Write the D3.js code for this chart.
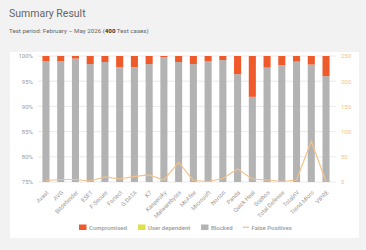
<!DOCTYPE html>
<html><head><meta charset="utf-8">
<script src="https://cdn.jsdelivr.net/npm/d3@7"></script>
<style>
html,body{margin:0;padding:0;background:#f2f2f2;}
svg{display:block;font-family:Roboto,"Open Sans",sans-serif;}
</style></head>
<body><svg id="c" width="366" height="250"></svg>
<script>
const categories = ["Avast","AVG","Bitdefender","ESET","F-Secure","Fortect","G DATA","K7","Kaspersky","Malwarebytes","McAfee","Microsoft","Norton","Panda","Quick Heal","Sophos","Total Defense","TotalAV","Trend Micro","VIPRE"];
const blocked = [99.0,99.0,99.5,98.4,98.8,97.8,97.8,98.4,99.8,98.8,98.4,99.0,99.2,96.4,91.9,97.7,98.2,98.9,98.3,96.0];
const userDependent = [0,0,0,0,0,0,0,0,0,0,0,0,0,0,0,0,0,0,0,0];
const compromised = blocked.map((b,i)=>+(100-b-userDependent[i]).toFixed(2));
const falsePositives = [3,5,5,2,10,6,11,14,4,39,3,1,7,26,6,4,1,4,81,1];
const leftTicks = [75,80,85,90,95,100];
const rightTicks = [0,50,100,150,200,250];

const svg = d3.select("#c");
svg.append("rect").attr("x",10).attr("y",52).attr("width",349).attr("height",186).attr("fill","#fff");

svg.append("text").attr("x",9).attr("y",17).attr("font-size",10.5).attr("fill","#666").text("Summary Result");
const sub = svg.append("text").attr("x",9).attr("y",32.5).attr("font-size",6.2).attr("fill","#666");
sub.append("tspan").text("Test period: February \u2013 May 2026 (");
sub.append("tspan").attr("font-weight","bold").attr("fill","#333").text("400");
sub.append("tspan").text(" Test cases)");

const x = d3.scaleBand().domain(categories).range([38.6,333.4]).paddingInner(0.52).paddingOuter(0.26);
const y = d3.scaleLinear().domain([75,100]).range([182,56]);
const y2 = d3.scaleLinear().domain([0,250]).range([182,56]);

// grid
svg.append("g").selectAll("line").data(leftTicks).join("line")
  .attr("x1",38).attr("x2",336).attr("y1",d=>y(d)).attr("y2",d=>y(d))
  .attr("stroke","#e4e4e4").attr("stroke-width",0.8);

// left axis
const la = svg.append("g").attr("transform","translate(38,0)")
  .call(d3.axisLeft(y).tickValues(leftTicks).tickFormat(d=>d+"%").tickSize(0).tickPadding(5));
la.select(".domain").remove();
la.selectAll("text").attr("font-size",6).attr("fill","#999").attr("font-family","Roboto,sans-serif");

// right axis
const ra = svg.append("g").attr("transform","translate(336,0)")
  .call(d3.axisRight(y2).tickValues(rightTicks).tickSize(0).tickPadding(5));
ra.select(".domain").remove();
ra.selectAll("text").attr("font-size",6).attr("fill","#f0c48c").attr("font-family","Roboto,sans-serif");

// bars
const data = categories.map((c,i)=>({c,b:blocked[i],u:userDependent[i],k:compromised[i]}));
const g = svg.append("g");
g.selectAll(".b").data(data).join("rect")
  .attr("x",d=>x(d.c)).attr("width",x.bandwidth())
  .attr("y",d=>y(d.b)).attr("height",d=>y(75)-y(d.b)).attr("fill","#b3b3b3");
g.selectAll(".u").data(data).join("rect")
  .attr("x",d=>x(d.c)).attr("width",x.bandwidth())
  .attr("y",d=>y(d.b+d.u)).attr("height",d=>y(d.b)-y(d.b+d.u)).attr("fill","#dfe04a");
g.selectAll(".k").data(data).join("rect")
  .attr("x",d=>x(d.c)).attr("width",x.bandwidth())
  .attr("y",d=>y(100)).attr("height",d=>y(d.b+d.u)-y(100)).attr("fill","#ef5a2a");

// FP line
const line = d3.line().x((d,i)=>x(categories[i])+x.bandwidth()/2).y(d=>y2(d));
svg.append("path").datum(falsePositives).attr("d",line)
  .attr("fill","none").attr("stroke","#f3c28a").attr("stroke-width",1.2);

// x labels
svg.append("g").selectAll("text").data(categories).join("text")
  .attr("transform",d=>`translate(${x(d)+x.bandwidth()/2+3},193) rotate(-45)`)
  .attr("text-anchor","end").attr("font-size",5.8).attr("fill","#999").text(d=>d);

// legend
const leg = [
  {t:"Compromised",c:"#ef5a2a",x:79,type:"rect"},
  {t:"User dependent",c:"#dfe04a",x:138,type:"rect"},
  {t:"Blocked",c:"#b3b3b3",x:201,type:"rect"},
  {t:"False Positives",c:"#f3c28a",x:243,type:"line"}
];
const lg = svg.append("g");
leg.forEach(l=>{
  if(l.type==="rect") lg.append("rect").attr("x",l.x).attr("y",224.5).attr("width",7.5).attr("height",5.5).attr("fill",l.c);
  else lg.append("line").attr("x1",l.x).attr("x2",l.x+6).attr("y1",227.3).attr("y2",227.3).attr("stroke",l.c).attr("stroke-width",1.3);
  lg.append("text").attr("x",l.x+(l.type==="rect"?10:8.5)).attr("y",229.6).attr("font-size",6).attr("font-weight","500").attr("fill","#999").text(l.t);
});
</script></body></html>
